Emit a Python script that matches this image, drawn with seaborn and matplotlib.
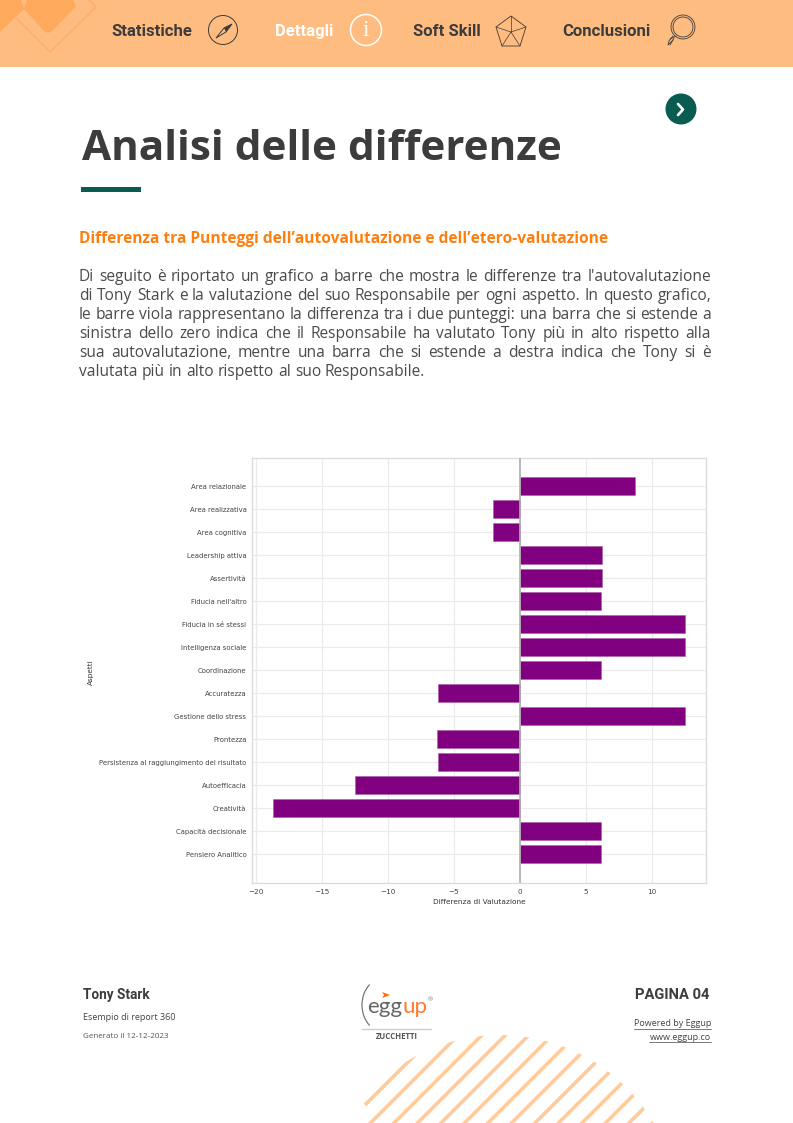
# -*- coding: utf-8 -*-
import numpy as np
import pandas as pd
import seaborn as sns
import matplotlib.pyplot as plt
from matplotlib.patches import Circle, Polygon, Rectangle, Arc

aspetti = ["Area relazionale", "Area realizzativa", "Area cognitiva", "Leadership attiva",
           "Assertività", "Fiducia nell'altro", "Fiducia in sé stessi", "Intelligenza sociale",
           "Coordinazione", "Accuratezza", "Gestione dello stress", "Prontezza",
           "Persistenza al raggiungimento del risultato", "Autoefficacia", "Creatività",
           "Capacità decisionale", "Pensiero Analitico"]
differenze = [8.75, -2.07, -2.07, 6.25, 6.25, 6.17, 12.48, 12.48, 6.17,
              -6.17, 12.48, -6.28, -6.17, -12.48, -18.69, 6.17, 6.17]

body_lines = ["Di seguito è riportato un grafico a barre che mostra le differenze tra l'autovalutazione",
              "di Tony Stark e la valutazione del suo Responsabile per ogni aspetto. In questo grafico,",
              "le barre viola rappresentano la differenza tra i due punteggi: una barra che si estende a",
              "sinistra dello zero indica che il Responsabile ha valutato Tony più in alto rispetto alla",
              "sua autovalutazione, mentre una barra che si estende a destra indica che Tony si è",
              "valutata più in alto rispetto al suo Responsabile."]
menu = [("Statistiche", 111, "#3c3c3c"), ("Dettagli", 275, "white"),
        ("Soft Skill", 413, "#3c3c3c"), ("Conclusioni", 562, "#3c3c3c")]

W, H = 793, 1123
DARK = "#3c3c3c"
ORANGE = "#ffbc80"
TEAL = "#0b5c50"
PLEX = ["Roboto", "DejaVu Sans"]

sns.set_style("whitegrid")
plt.rcParams['font.family'] = ['Open Sans', 'DejaVu Sans']

fig = plt.figure(figsize=(W / 100, H / 100), dpi=100)

# pagina in coordinate pixel
bg = fig.add_axes([0, 0, 1, 1])
bg.set_xlim(0, W)
bg.set_ylim(H, 0)
bg.axis("off")

# testata
bg.add_patch(Rectangle((0, 0), W, 67, color=ORANGE, lw=0))
bg.plot([15, 50, 96, 89], [17, 52, 7, 0], color="#ffb06a", lw=1.3, solid_joinstyle="round")
bg.add_patch(Polygon([(0, 0), (21, 0), (24, 9), (0, 32)], closed=True, color="#ffa95c", lw=0))
bg.add_patch(Polygon([(24, 9), (27, 0), (73, 0), (76, 6), (52, 31), (48, 33), (44, 31)], closed=True,
                     color="#ffa95c", lw=0))

for label, x, col in menu:
    bg.text(x, 36, label, fontsize=12, fontweight="bold", color=col, va="baseline", family=PLEX)

# icone
bg.add_patch(Circle((223, 30), 14.5, fill=False, ec=DARK, lw=0.7))
bg.add_patch(Polygon([(232, 24), (224, 28), (216, 38), (226, 32)], closed=True, fc="none", ec=DARK, lw=0.7))
bg.add_patch(Polygon([(232, 24), (224, 28), (226, 32)], closed=True, fc=DARK, lw=0))
bg.add_patch(Circle((366, 30), 15.5, fill=False, ec="white", lw=1.1))
bg.text(366, 30.5, "i", color="white", fontsize=17, ha="center", va="center", family="Liberation Serif")
pent = [(511, 16), (526, 27), (520, 46), (502, 46), (496, 27)]
bg.add_patch(Polygon(pent, closed=True, fill=False, ec=DARK, lw=0.6))
for px, py in pent:
    bg.plot([511, px], [32, py], color=DARK, lw=0.5)
bg.add_patch(Circle((683, 27), 12, fill=False, ec=DARK, lw=0.6))
bg.add_patch(Circle((683, 27), 10, fill=False, ec=DARK, lw=0.6))
bg.plot([676, 670], [36, 39], color=DARK, lw=0.6)
bg.plot([673, 669, 668, 673], [36, 41, 45, 40], color=DARK, lw=0.6)
bg.plot([674, 670], [38, 45], color=DARK, lw=0.6)

# pulsante
bg.add_patch(Circle((681, 109), 15.5, color=TEAL, lw=0))
bg.plot([678, 683, 678], [104, 109.5, 115], color="white", lw=1.9)

# titolo
bg.text(82, 160, "Analisi delle differenze", fontsize=30.4, fontweight="bold", color=DARK, va="baseline")
bg.add_patch(Rectangle((81, 187), 60, 4.5, color=TEAL, lw=0))
bg.text(79, 243, "Differenza tra Punteggi dell’autovalutazione e dell’etero-valutazione",
        fontsize=11.2, fontweight="bold", color="#ff7f0e", va="baseline")

# testo giustificato
renderer = fig.canvas.get_renderer()
def word_width(s):
    t = bg.text(0, 0, s, fontsize=11.2)
    bb = t.get_window_extent(renderer)
    t.remove()
    return bb.width

space = word_width("a a") - word_width("aa")
for i, line in enumerate(body_lines):
    y = 281 + i * 19
    words = line.split(" ")
    widths = [word_width(w) for w in words]
    gap = (711 - 79 - sum(widths)) / (len(words) - 1)
    if i == len(body_lines) - 1:
        gap = space
    x = 79
    for w, ww in zip(words, widths):
        bg.text(x, y, w, fontsize=11.2, color="#4a4a4a", va="baseline")
        x += ww + gap

# grafico
ax = fig.add_axes([252 / W, 1 - 883 / H, (706 - 252) / W, (883 - 458) / H])
df = pd.DataFrame({"Aspetti": aspetti, "Differenza": differenze})
sns.barplot(data=df, y="Aspetti", x="Differenza", color="purple", saturation=1, width=0.77,
            edgecolor="#a860a8", linewidth=0.4, ax=ax, zorder=3)
ax.axvline(0, color="#b0b0b0", lw=1.2, zorder=4)
ax.set_xlim(-20.28, 14.09)
ax.set_ylim(17.25, -1.23)
ax.set_xticks([-20, -15, -10, -5, 0, 5, 10])
ax.grid(True, color="#ebebeb", lw=0.9)
ax.set_axisbelow(True)
for s in ax.spines.values():
    s.set_color("#dcdcdc")
    s.set_linewidth(1.0)
ax.tick_params(axis="x", labelsize=5.2, labelcolor="#444444", length=0, pad=4)
ax.tick_params(axis="y", labelsize=4.95, labelcolor="#444444", length=0, pad=4)
for t in ax.get_xticklabels() + ax.get_yticklabels():
    t.set_family("DejaVu Sans")
ax.set_xlabel("Differenza di Valutazione", fontsize=5.3, color="#333333", family="DejaVu Sans", labelpad=3.5)
ax.set_ylabel("")
bg.text(91, 672, "Aspetti", fontsize=5.3, color="#333333", rotation=90, ha="center", va="center",
        family="DejaVu Sans")

# piè di pagina
bg.text(83, 999, "Tony Stark", fontsize=9.8, fontweight="bold", color=DARK, va="baseline", family=PLEX)
bg.text(83, 1019.5, "Esempio di report 360", fontsize=6.5, color="#444444", va="baseline")
bg.text(83, 1038, "Generato il 12-12-2023", fontsize=5.8, color="#555555", va="baseline")
bg.text(709, 999, "PAGINA 04", fontsize=10.6, fontweight="bold", color=DARK, va="baseline", ha="right", family=PLEX)
for txt, y in [("Powered by Eggup", 1026.5), ("www.eggup.co", 1040)]:
    bg.text(711, y, txt, fontsize=6.5, color="#444444", va="baseline", ha="right")
bg.plot([634, 711], [1028.5, 1028.5], color="#444444", lw=0.5)
bg.plot([649, 711], [1042, 1042], color="#444444", lw=0.5)

# logo
bg.add_patch(Arc((384, 1005), 44, 54, theta1=125, theta2=235, ec="#777777", lw=0.9))
bg.text(367, 1013, "egg", fontsize=16, color="#666666", va="baseline", family="Lato")
bg.text(403, 1013, "up", fontsize=16, color="#ff7a2a", va="baseline", family="Lato")
bg.text(430, 1000, "®", fontsize=4.5, color="#777777", ha="center", va="center")
bg.add_patch(Polygon([(382, 992), (390, 995), (382, 998), (384, 995)], closed=True, color="#ff6a13", lw=0))
bg.plot([362, 431], [1028.5, 1028.5], color="#cccccc", lw=1)
bg.text(396.5, 1036.5, "ZUCCHETTI", fontsize=5.6, fontweight="bold", color="#555555", ha="center", va="center")

# strisce in basso, ritagliate da un cerchio
clip = Circle((500, 1213), 178, transform=bg.transData, fill=False, lw=0)
bg.add_patch(clip)
for k in range(14):
    c = 1470 + 23.5 * k
    x0 = max(c - H - 10, 365)
    ln, = bg.plot([x0, c - 1000], [c - x0, 1000], color="#ffcb9b", lw=2.6, solid_capstyle="butt")
    ln.set_clip_path(clip)

fig.savefig("out.png", dpi=100)
